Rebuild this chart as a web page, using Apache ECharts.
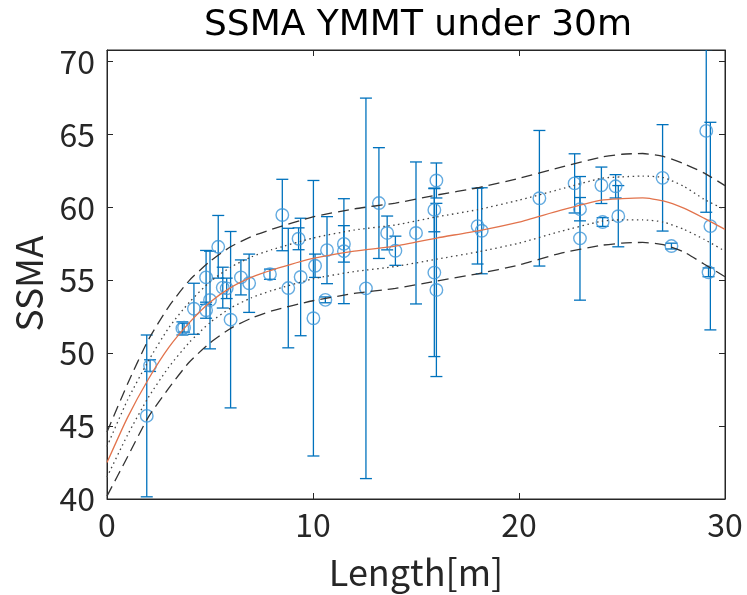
<!DOCTYPE html>
<html>
<head>
<meta charset="utf-8">
<script src="https://cdn.jsdelivr.net/npm/echarts@6/dist/echarts.min.js"></script>
<style>html,body{margin:0;padding:0;background:#fff;}#c{width:747px;height:595px;}</style>
</head>
<body>
<div id="c"></div>
<script>
// Measured points: length [m], SSMA, error half-width
const ptX = [1.93,2.09,3.66,3.74,4.22,4.81,5.0,4.81,5.40,5.62,5.81,6.0,6.5,6.9,7.91,8.51,8.8,9.3,9.4,10.02,10.1,10.68,10.6,11.5,11.5,12.57,13.2,13.6,14.0,15.0,15.99,15.89,15.89,15.99,17.99,18.19,20.99,22.7,22.96,22.96,24.0,24.06,24.69,24.82,26.97,27.4,29.09,29.29,29.2];
const ptY = [45.7,49.15,51.7,51.75,53.05,55.2,53.65,52.95,57.3,54.5,54.45,52.3,55.2,54.8,55.42,59.48,54.47,57.85,55.23,52.4,56.0,57.07,53.66,57.0,57.5,54.45,60.3,58.25,57.03,58.25,61.85,59.83,55.53,54.34,58.72,58.4,60.63,61.65,59.88,57.88,61.52,59.0,61.45,59.4,62.03,57.35,65.25,58.72,55.55];
const ptErr = [5.55,0.4,0.45,0.3,1.75,1.85,3.35,0.55,2.15,1.4,0.7,6.05,1.2,2.0,0.35,2.45,4.1,0.75,4.03,9.45,0.8,2.3,0.2,3.6,1.25,13.05,3.8,1.16,1.0,4.87,1.2,1.5,5.76,5.94,2.6,2.95,4.65,2.03,0.8,4.24,1.25,0.3,0.8,2.1,3.65,0.2,5.58,7.12,0.3];

// Fit curve and bands
const fitX      = [0,1,2,3,4,5,6,7,8,10,12,14,16,18,20,22,24,25,26,27,28,29,30];
const fitMid    = [42.5,45.6,48.2,50.4,52.1,53.5,54.5,55.2,55.7,56.5,57.0,57.35,57.9,58.4,59.0,59.8,60.5,60.6,60.65,60.45,59.95,59.25,58.5];
const fitUpDash = [44.6,47.9,50.9,53.2,55.0,56.3,57.3,58.0,58.5,59.35,59.9,60.3,60.85,61.35,62.0,62.75,63.45,63.65,63.7,63.5,63.0,62.35,61.5];
const fitLoDash = [40.2,42.9,45.6,47.6,49.4,50.7,51.7,52.4,52.9,53.6,54.1,54.45,54.95,55.45,56.05,56.85,57.4,57.55,57.6,57.45,56.95,56.1,55.25];
const fitUpDot  = [43.6,46.8,49.45,51.75,53.5,54.9,55.9,56.6,57.1,57.9,58.45,58.8,59.35,59.85,60.5,61.25,62.0,62.1,62.15,62.05,61.45,60.55,59.85];
const fitLoDot  = [41.5,44.4,46.95,49.05,50.75,52.1,53.1,53.8,54.3,55.1,55.6,55.95,56.45,56.95,57.55,58.35,59.05,59.15,59.15,59.0,58.5,57.8,57.0];

const xTicks = [0,10,20,30];
const yTicks = [40,45,50,55,60,65,70];
const titleText = 'SSMA YMMT under 30m';
const xName = 'Length[m]';
const yName = 'SSMA';

const FONT = '"Noto Sans CJK JP", "Noto Sans", sans-serif';
const chart = echarts.init(document.getElementById('c'), null, {renderer: 'canvas'});

function pairs(xs, ys) { return xs.map((x, i) => [x, ys[i]]); }
const errData = ptX.map((x, i) => [x, ptY[i], ptErr[i]]);

function fitLine(ys, color, type, width) {
  return {
    type: 'line', data: pairs(fitX, ys), showSymbol: false,
    smooth: 0.2,
    lineStyle: {color: color, type: type, width: width}, z: 5, silent: true,
    xAxisIndex: 0, yAxisIndex: 0
  };
}

function axisBase() {
  return {
    type: 'value',
    axisLine: {show: true, onZero: false, lineStyle: {color: '#262626', width: 1}},
    axisTick: {show: true, inside: true, length: 6, lineStyle: {color: '#262626'}},
    splitLine: {show: false}
  };
}

chart.setOption({
  animation: false,
  backgroundColor: '#fff',
  graphic: [{
    type: 'text', x: 418, y: 26,
    style: {text: titleText, font: '36px "DejaVu Sans"', fill: '#000', textAlign: 'center', textVerticalAlign: 'middle'}
  }],
  grid: {left: 107, right: 22, top: 50, bottom: 96, show: true, borderColor: '#262626', borderWidth: 1, backgroundColor: 'transparent'},
  xAxis: [
    Object.assign(axisBase(), {
      min: 0, max: 30, interval: 10, position: 'bottom',
      name: xName, nameLocation: 'middle', nameGap: 55,
      nameTextStyle: {fontFamily: FONT, fontSize: 36, color: '#262626'},
      axisLabel: {fontFamily: FONT, fontSize: 32, color: '#262626', margin: 10,
        formatter: v => xTicks.includes(v) ? String(v) : ''}
    }),
    Object.assign(axisBase(), {
      min: 0, max: 30, interval: 10, position: 'top', axisLabel: {show: false}
    })
  ],
  yAxis: [
    Object.assign(axisBase(), {
      min: 40, max: 70.8, interval: 5, position: 'left',
      name: yName, nameLocation: 'middle', nameGap: 60, nameRotate: 90,
      nameTextStyle: {fontFamily: FONT, fontSize: 37, color: '#262626', padding: [0, 18, 0, 0]},
      axisLabel: {fontFamily: FONT, fontSize: 32, color: '#262626', margin: 12,
        formatter: v => yTicks.includes(v) ? String(v) : ''}
    }),
    Object.assign(axisBase(), {
      min: 40, max: 70.8, interval: 5, position: 'right',
      axisLabel: {show: false, formatter: v => yTicks.includes(v) ? String(v) : ''}
    })
  ],
  series: [
    {
      type: 'custom', xAxisIndex: 0, yAxisIndex: 0, clip: true, z: 3,
      data: errData,
      renderItem: function (params, api) {
        const x = api.value(0), y = api.value(1), e = api.value(2);
        const top = api.coord([x, y + e]);
        const bot = api.coord([x, y - e]);
        const hw = 6;
        const style = {stroke: '#0072BD', lineWidth: 1.3};
        return {
          type: 'group',
          children: [
            {type: 'line', shape: {x1: top[0], y1: top[1], x2: bot[0], y2: bot[1]}, style: style},
            {type: 'line', shape: {x1: top[0] - hw, y1: top[1], x2: top[0] + hw, y2: top[1]}, style: style},
            {type: 'line', shape: {x1: bot[0] - hw, y1: bot[1], x2: bot[0] + hw, y2: bot[1]}, style: style}
          ]
        };
      }
    },
    {
      type: 'scatter', xAxisIndex: 0, yAxisIndex: 0, z: 4,
      data: pairs(ptX, ptY), symbol: 'circle', symbolSize: 12.5,
      itemStyle: {color: 'rgba(0,0,0,0)', borderColor: '#3D96D8', borderWidth: 1.4}
    },
    {type: 'scatter', xAxisIndex: 1, yAxisIndex: 1, data: [], silent: true},
    fitLine(fitUpDash, '#333333', [11, 6], 1.3),
    fitLine(fitLoDash, '#333333', [11, 6], 1.3),
    fitLine(fitUpDot, '#444444', [1.5, 3.5], 1.3),
    fitLine(fitLoDot, '#444444', [1.5, 3.5], 1.3),
    fitLine(fitMid, '#E2734C', 'solid', 1.3)
  ]
});
</script>
</body>
</html>
